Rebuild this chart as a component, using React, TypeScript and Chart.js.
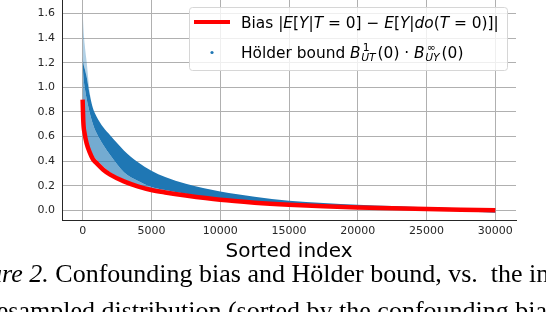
import React, { useEffect, useRef } from 'react';
import { Chart, registerables } from 'chart.js';

Chart.register(...registerables);

// ---- data ----
const SORTED_INDEX = [0, 50, 150, 300, 500, 750, 1000, 1500, 2000, 3000, 4000, 5000, 6000, 7500, 10000, 12500, 15000, 17500, 20000, 22500, 25000, 27500, 30000];
const BIAS = [0.9, 0.72, 0.62, 0.54, 0.475, 0.415, 0.385, 0.33, 0.29, 0.235, 0.195, 0.165, 0.145, 0.12, 0.085, 0.062, 0.045, 0.032, 0.022, 0.016, 0.01, 0.005, 0.0];
const HOLDER_SPARSE_TOP = [1.63, 1.5, 1.35, 1.2, 0.97, 0.83, 0.765, 0.675, 0.61, 0.487, 0.393, 0.322, 0.27, 0.215, 0.152, 0.111, 0.078, 0.06, 0.046, 0.035, 0.025, 0.016, 0.01];
const HOLDER_DENSE_TOP = [1.25, 1.2, 1.15, 1.08, 0.95, 0.83, 0.765, 0.675, 0.61, 0.487, 0.393, 0.322, 0.27, 0.215, 0.152, 0.111, 0.078, 0.06, 0.046, 0.035, 0.025, 0.016, 0.01];
const HOLDER_DENSE_BOTTOM = [1.2, 1.1, 1.0, 0.9, 0.8, 0.7, 0.63, 0.53, 0.45, 0.31, 0.24, 0.19, 0.165, 0.135, 0.095, 0.069, 0.05, 0.035, 0.024, 0.014, 0.002, -0.006, -0.02];
const HOLDER_SPARSE_BOTTOM = [0.92, 0.77, 0.66, 0.575, 0.51, 0.445, 0.41, 0.355, 0.31, 0.25, 0.208, 0.175, 0.155, 0.128, 0.092, 0.067, 0.049, 0.034, 0.023, 0.013, 0.0, -0.008, -0.022];
const X_TICKS = [0, 5000, 10000, 15000, 20000, 25000, 30000];
const Y_TICKS = [0, 0.2, 0.4, 0.6, 0.8, 1.0, 1.2, 1.4, 1.6];

type Run = { t?: string; i?: boolean; sup?: string; sub?: string };
const LEGEND_BIAS: Run[] = [
  { t: 'Bias ' }, { t: '|' }, { t: 'E', i: true }, { t: '[' }, { t: 'Y', i: true }, { t: '|' },
  { t: 'T', i: true }, { t: ' = 0] − ' }, { t: 'E', i: true }, { t: '[' }, { t: 'Y', i: true },
  { t: '|' }, { t: 'do', i: true }, { t: '(' }, { t: 'T', i: true }, { t: ' = 0)]|' },
];
const LEGEND_HOLDER: Run[] = [
  { t: 'Hölder bound ' }, { t: 'B', i: true }, { sup: '1', sub: 'UT' }, { t: '(0) · ' },
  { t: 'B', i: true }, { sup: '∞', sub: 'UY' }, { t: '(0)' },
];

const FONT = '"DejaVu Sans"';

function drawRuns(ctx: CanvasRenderingContext2D, x: number, y: number, runs: Run[], size: number) {
  ctx.fillStyle = '#000';
  ctx.textBaseline = 'alphabetic';
  ctx.textAlign = 'left';
  for (const r of runs) {
    if (r.sup !== undefined) {
      const s = size * 0.7;
      ctx.font = `${s}px ${FONT}`;
      const w1 = ctx.measureText(r.sup).width;
      ctx.fillText(r.sup, x + 2, y - size * 0.42);
      ctx.font = `italic ${s}px ${FONT}`;
      const w2 = ctx.measureText(r.sub || '').width;
      ctx.fillText(r.sub || '', x + 0.5, y + size * 0.22);
      x += Math.max(w1 + 2, w2 + 0.5) + 2;
    } else {
      ctx.font = `${r.i ? 'italic ' : ''}${size}px ${FONT}`;
      ctx.fillText(r.t || '', x, y);
      x += ctx.measureText(r.t || '').width;
    }
  }
}

const legendPlugin = {
  id: 'holderLegend',
  afterDraw(chart: any) {
    const { ctx, chartArea } = chart;
    const boxW = 318, boxH = 63;
    const bx = Math.round(chartArea.right - 9 - boxW);
    const by = Math.round(chartArea.top + 7);
    ctx.save();
    ctx.beginPath();
    ctx.roundRect(bx + 0.5, by + 0.5, boxW, boxH, 3);
    ctx.fillStyle = 'rgba(255,255,255,0.8)';
    ctx.fill();
    ctx.strokeStyle = '#d6d6d6';
    ctx.lineWidth = 1;
    ctx.stroke();
    const row1 = by + 15;
    const row2 = by + 45.5;
    ctx.strokeStyle = '#ff0000';
    ctx.lineWidth = 4;
    ctx.lineCap = 'butt';
    ctx.beginPath();
    ctx.moveTo(bx + 5, row1);
    ctx.lineTo(bx + 41, row1);
    ctx.stroke();
    ctx.fillStyle = '#1f77b4';
    ctx.beginPath();
    ctx.arc(bx + 23, row2, 1.6, 0, Math.PI * 2);
    ctx.fill();
    drawRuns(ctx, bx + 52, by + 20.5, LEGEND_BIAS, 15.4);
    drawRuns(ctx, bx + 52, by + 50.5, LEGEND_HOLDER, 15.4);
    ctx.restore();
  },
};

const pts = (ys: number[]) => SORTED_INDEX.map((x, i) => ({ x, y: ys[i] }));

const bandBase = {
  borderColor: 'rgba(0,0,0,0)',
  borderWidth: 1,
  pointRadius: 0,
  cubicInterpolationMode: 'monotone' as const,
};

export default function App() {
  const ref = useRef<HTMLCanvasElement | null>(null);

  useEffect(() => {
    if (!ref.current) return;
    const tickFont = { family: FONT, size: 11 };
    const chart = new Chart(ref.current, {
      type: 'line',
      data: {
        datasets: [
          {
            label: 'Bias',
            data: pts(BIAS),
            borderColor: '#ff0000',
            borderWidth: 4.5,
            borderCapStyle: 'butt',
            borderJoinStyle: 'round',
            pointRadius: 0,
            fill: false,
            order: 0,
            cubicInterpolationMode: 'monotone',
          },
          { ...bandBase, label: 'sparseTop', data: pts(HOLDER_SPARSE_TOP), fill: '+1', backgroundColor: 'rgba(31,119,180,0.35)', order: 1 },
          { ...bandBase, label: 'denseTop', data: pts(HOLDER_DENSE_TOP), fill: '+1', backgroundColor: '#1f77b4', order: 2 },
          { ...bandBase, label: 'denseBottom', data: pts(HOLDER_DENSE_BOTTOM), fill: '+1', backgroundColor: 'rgba(31,119,180,0.62)', order: 3 },
          { ...bandBase, label: 'sparseBottom', data: pts(HOLDER_SPARSE_BOTTOM), fill: false, order: 4 },
        ] as any,
      },
      options: {
        responsive: false,
        animation: false,
        devicePixelRatio: 1,
        layout: { padding: { left: 0, right: 30, top: 0, bottom: 0 } },
        plugins: { legend: { display: false }, tooltip: { enabled: false } },
        scales: {
          x: {
            type: 'linear',
            min: -1500,
            max: 31500,
            afterBuildTicks: (s: any) => { s.ticks = X_TICKS.map((v) => ({ value: v })); },
            afterFit: (s: any) => { s.height = 45; s.paddingLeft = 0; s.paddingRight = 0; },
            grid: { color: '#b0b0b0', lineWidth: 1, drawTicks: false },
            border: { display: true, color: '#262626', width: 1 },
            ticks: { padding: 5, color: '#262626', font: tickFont, maxRotation: 0, autoSkip: false, callback: (v: any) => String(v) },
            title: { display: true, text: 'Sorted index', color: '#000', font: { family: FONT, size: 20 }, padding: { top: 0, bottom: 1 } },
          },
          y: {
            type: 'linear',
            min: -0.079,
            max: 1.71,
            afterBuildTicks: (s: any) => { s.ticks = Y_TICKS.map((v) => ({ value: v })); },
            afterFit: (s: any) => { s.width = 62; s.paddingTop = 0; s.paddingBottom = 0; },
            grid: { color: '#b0b0b0', lineWidth: 1, drawTicks: false },
            border: { display: true, color: '#262626', width: 1 },
            ticks: { padding: 7, color: '#262626', font: tickFont, autoSkip: false, callback: (v: any) => Number(v).toFixed(1) },
          },
        },
      } as any,
      plugins: [legendPlugin],
    });
    return () => chart.destroy();
  }, []);

  const captionFont = {
    position: 'absolute' as const,
    fontFamily: '"Liberation Serif", "Times New Roman", serif',
    fontSize: 26,
    lineHeight: '30px',
    whiteSpace: 'nowrap' as const,
    color: '#000',
  };

  return (
    <div style={{ position: 'fixed', left: 0, top: 0, width: 546, height: 312, overflow: 'hidden', background: '#fff' }}>
      <canvas ref={ref} width={546} height={265} style={{ position: 'absolute', left: 0, top: 0, width: 546, height: 265 }} />
      <div style={{ ...captionFont, left: -47, top: 259 }}>
        <i>Figure 2.</i> Confounding bias and Hölder bound, vs.&nbsp; the index
      </div>
      <div style={{ ...captionFont, left: -40, top: 296 }}>
        of resampled distribution (sorted by the confounding bias).
      </div>
    </div>
  );
}
